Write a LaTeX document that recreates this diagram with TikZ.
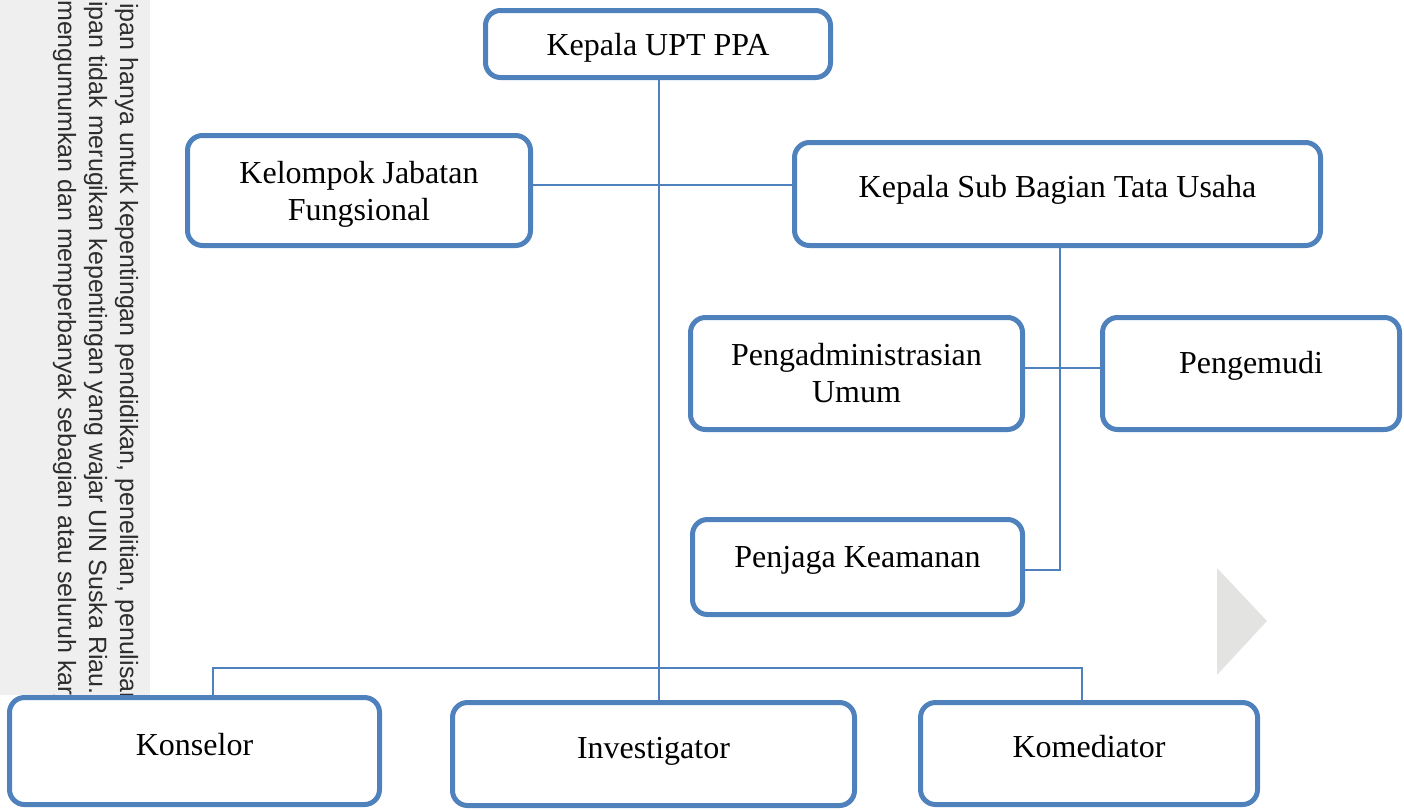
\documentclass[tikz,border=0pt]{standalone}
\usepackage{fontspec}
\setmainfont{Liberation Serif}
\newfontfamily\wmfont{Liberation Sans}
\definecolor{boxblue}{RGB}{79,129,189}
\definecolor{wmgray}{RGB}{239,239,240}
\definecolor{wmtextcol}{RGB}{45,45,45}
\definecolor{trigray}{RGB}{227,228,226}
\tikzset{
  orgbox/.style={draw=boxblue, line width=5pt, rounded corners=15pt, fill=white,
    inner sep=0pt, font=\fontsize{32}{37}\selectfont},
  oneline/.style={text height=20pt, text depth=20pt},
  lowline/.style={text height=24pt, text depth=16pt},
  conn/.style={draw=boxblue, line width=2pt},
  wmline/.style={rotate=-90, anchor=base west, inner sep=0pt, text=wmtextcol,
    font=\wmfont\fontsize{25}{30}\selectfont}
}
\begin{document}
\begin{tikzpicture}[x=1pt,y=-1pt]
\useasboundingbox (0,0) rectangle (1404,809);
% watermark band
\fill[wmgray] (0,0) rectangle (150,695);
\begin{scope}
\clip (0,0) rectangle (150,695);
\node[wmline] (w1) at (120,3) {ipan hanya untuk kepentingan pendidikan, penelitian, penulisan karya};
\node[wmline] (w2) at (89,1) {ipan tidak merugikan kepentingan yang wajar UIN Suska Riau.};
\node[wmline] (w3) at (58,0) {mengumumkan dan memperbanyak sebagian atau seluruh karya tulis};
\end{scope}
% triangle
\fill[trigray] (1217,568) -- (1267,621) -- (1217,675) -- cycle;

% boxes
\node[orgbox, minimum width=345pt, minimum height=67pt, text height=22pt, text depth=0pt] (A) at (658,44) {Kepala UPT PPA};
\node[orgbox, minimum width=343pt, minimum height=110pt, align=center, text height=63pt, text depth=3pt] (B) at (359,190.5) {Kelompok Jabatan\\Fungsional};
\node[orgbox, minimum width=526pt, minimum height=103pt, text height=23pt, text depth=17pt] (C) at (1057.5,194) {Kepala Sub Bagian Tata Usaha};
\node[orgbox, minimum width=332pt, minimum height=112pt, align=center] (D) at (856.5,373.5) {Pengadministrasian\\Umum};
\node[orgbox, oneline, minimum width=297pt, minimum height=112pt] (E) at (1251,373.5) {Pengemudi};
\node[orgbox, oneline, minimum width=330pt, minimum height=95pt] (F) at (857.5,567) {Penjaga Keamanan};
\node[orgbox, lowline, minimum width=370pt, minimum height=107pt] (K) at (194.5,751) {Konselor};
\node[orgbox, lowline, minimum width=402pt, minimum height=103pt] (I) at (653.5,754) {Investigator};
\node[orgbox, lowline, minimum width=337pt, minimum height=102pt] (M) at (1089,753.5) {Komediator};

% junction coordinates
\coordinate (jm) at (659,668);
\coordinate (jl) at (213,668);
\coordinate (jr) at (1082,668);
\coordinate (hbc) at (0,185);
\coordinate (hde) at (0,368);
\coordinate (jc) at (1060,570);

% connectors
\draw[conn] (A.south -| jm) -- (jm) -- ([yshift=-5pt]I.north -| jm);
\draw[conn] (K.north -| jl) -- (jl) -- (jr) -- ([yshift=-5pt]M.north -| jr);
\draw[conn] (B.east |- hbc) -- (C.west |- hbc);
\draw[conn] (C.south -| jc) -- (jc) -- (F.east |- jc);
\draw[conn] (D.east |- hde) -- (E.west |- hde);
\end{tikzpicture}
\end{document}
